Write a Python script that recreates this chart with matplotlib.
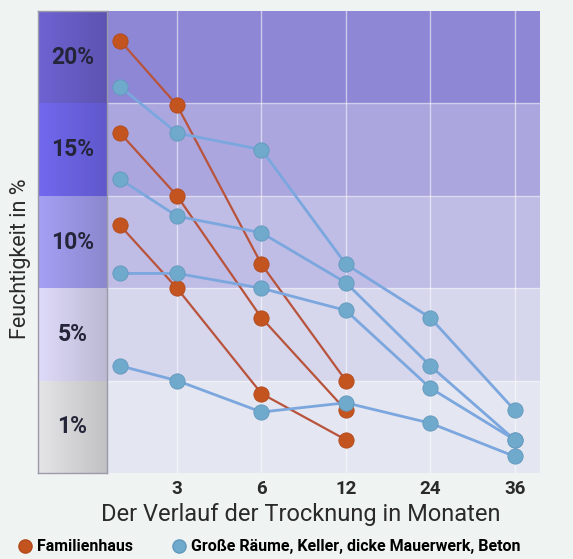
import numpy as np
import matplotlib.pyplot as plt
from matplotlib.colors import to_rgb
from matplotlib.lines import Line2D

# Trocknungsverlauf (Werte auf der Skala des Diagramms, jede Zone = 5 Einheiten)
months = [0, 3, 6, 12, 24, 36]
tick_labels = ["3", "6", "12", "24", "36"]
band_labels = ["1%", "5%", "10%", "15%", "20%"]

familienhaus = [
    [23.4, 19.9, 11.3, 5.0],
    [18.4, 15.0, 8.4, 3.4],
    [13.4, 10.0, 4.3, 1.8],
]
grosse_raeume = [
    [20.9, 18.4, 17.5, 11.3, 8.4, 3.4],
    [15.9, 13.9, 13.0, 10.3, 5.8, 1.8],
    [10.8, 10.8, 10.0, 8.8, 4.6, 1.8],
    [5.8, 5.0, 3.3, 3.8, 2.7, 0.9],
]

band_colors = ["#e4e6f1", "#d6d6ec", "#bfbde6", "#aba6de", "#8d87d5"]
side_colors = ["#dcdcde", "#d6d2f0", "#9f9aea", "#6d64e6", "#6a5fca"]

orange_line, orange_dot, orange_edge = "#b8533c", "#c4541f", "#b14a1c"
blue_line, blue_dot, blue_edge = "#7ba7de", "#6fa9cc", "#6399bd"

# x-Position: Startwert links vor der ersten Linie, danach je Kategorie eine Einheit
xpos = {m: (0.325 if i == 0 else i) for i, m in enumerate(months)}

fig = plt.figure(figsize=(5.73, 5.59), dpi=100, facecolor="#eff4f2")
ax = fig.add_axes([0.1867, 0.1538, 0.7557, 0.8265])
side = fig.add_axes([0.0663, 0.1538, 0.1204, 0.8265])

band_h = 5
shade = np.linspace(1.04, 0.88, 60)
for i, c in enumerate(band_colors):
    ax.axhspan(i * band_h, (i + 1) * band_h, color=c, zorder=0, lw=0)
    grad = np.clip(np.array(to_rgb(side_colors[i]))[None, None, :] * shade[None, :, None], 0, 1)
    side.imshow(grad, extent=(0, 1, i * band_h, (i + 1) * band_h), aspect="auto")
    side.text(0.5, i * band_h + band_h / 2, band_labels[i], ha="center", va="center",
              fontsize=16.5, fontweight="bold", color="#25253a", family="Roboto")
for i in range(1, 5):
    ax.axhline(i * band_h, color="white", alpha=0.45, lw=1, zorder=1)

for p in range(1, 6):
    ax.axvline(p, color="white", alpha=0.55, lw=1, zorder=1)

for s in familienhaus:
    xs = [xpos[m] for m in months[:len(s)]]
    ax.plot(xs, s, color=orange_line, lw=1.6, zorder=3)
    ax.plot(xs, s, "o", ms=11, mfc=orange_dot, mec=orange_edge, mew=0.6, zorder=4)

for s in grosse_raeume:
    xs = [xpos[m] for m in months[:len(s)]]
    ax.plot(xs, s, color=blue_line, lw=2, zorder=3)
    ax.plot(xs, s, "o", ms=11, mfc=blue_dot, mec=blue_edge, mew=0.6, zorder=4)

ax.set_xlim(0.17, 5.3)
ax.set_ylim(0, 25)
ax.set_xticks(range(1, 6))
ax.set_xticklabels(tick_labels, fontsize=13.5, fontweight="bold", color="#2a2a2a", family="Roboto")
ax.tick_params(axis="x", length=0, pad=5)
ax.set_yticks([])
for sp in ax.spines.values():
    sp.set_visible(False)

side.set_xlim(0, 1)
side.set_ylim(0, 25)
side.set_xticks([])
side.set_yticks([])
for sp in side.spines.values():
    sp.set_color("#9a9aa8")
    sp.set_linewidth(1)

fig.text(0.036, 0.537, "Feuchtigkeit in %", rotation=90, ha="center", va="center",
         fontsize=15.5, color="#2a2a2a", family="Roboto")
fig.text(0.524, 0.079, "Der Verlauf der Trocknung in Monaten", ha="center", va="center",
         fontsize=17, color="#2a2a2a", family="Roboto")

handles = [
    Line2D([], [], marker="o", ls="", ms=9.5, mfc=orange_dot, mec=orange_edge),
    Line2D([], [], marker="o", ls="", ms=9.5, mfc=blue_dot, mec=blue_edge),
]
fig.legend(handles, ["Familienhaus", "Große Räume, Keller, dicke Mauerwerk, Beton"],
           loc="center left", bbox_to_anchor=(0.018, 0.022), ncol=2, frameon=False,
           handletextpad=0.25, columnspacing=2.4, handlelength=1, borderaxespad=0,
           prop={"family": "Roboto", "weight": "bold", "size": 11.5})

fig.savefig("out.png", dpi=100, facecolor=fig.get_facecolor())
